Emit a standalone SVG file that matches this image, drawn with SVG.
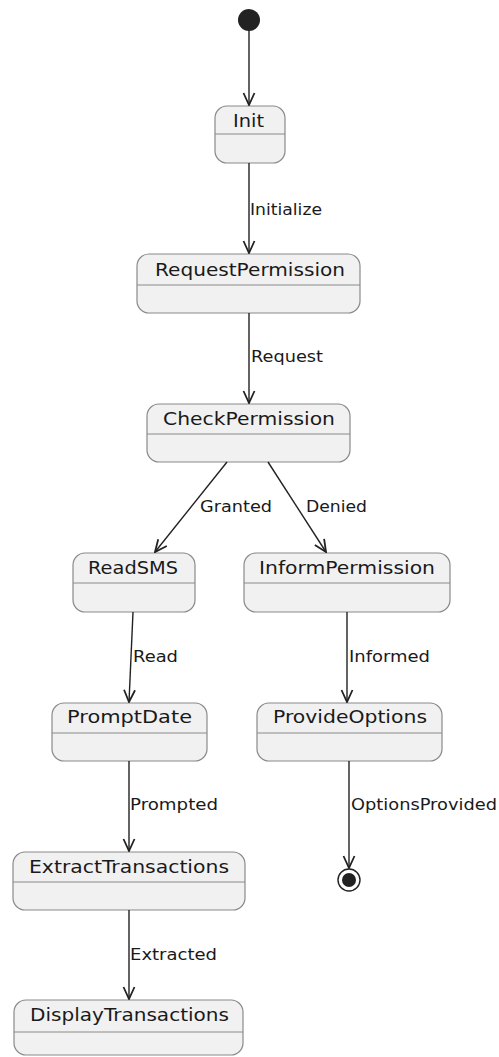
<svg xmlns="http://www.w3.org/2000/svg" width="499" height="1057" viewBox="0 0 499 1057">
<defs>
<style>
.box{fill:#F1F1F1;stroke:#8a8a8a;stroke-width:1.2}
.div{stroke:#8a8a8a;stroke-width:1}
.name{font-family:"DejaVu Sans",sans-serif;font-size:17px;fill:#1a1a1a}
.lbl{font-family:"DejaVu Sans",sans-serif;font-size:15px;fill:#1a1a1a}
.edge{stroke:#222;stroke-width:1.4;fill:none}
</style>
<marker id="arr" viewBox="0 0 14 14" refX="13" refY="7" markerWidth="14" markerHeight="14" markerUnits="userSpaceOnUse" orient="auto">
<path d="M1,1.5 L13,7 L1,12.5" fill="none" stroke="#222" stroke-width="1.8"/>
</marker>
</defs>
<rect width="499" height="1057" fill="#ffffff"/>
<g id="start"><circle cx="249" cy="20" r="11" fill="#222"/></g>
<g id="Init"><rect class="box" x="215" y="106" width="70" height="57" rx="12"/><line class="div" x1="215" y1="134" x2="285" y2="134"/><text class="name" x="233" y="127" textLength="31" lengthAdjust="spacingAndGlyphs">Init</text></g>
<g id="RequestPermission"><rect class="box" x="137" y="254" width="223" height="59" rx="12"/><line class="div" x1="137" y1="285" x2="360" y2="285"/><text class="name" x="155" y="276" textLength="190" lengthAdjust="spacingAndGlyphs">RequestPermission</text></g>
<g id="CheckPermission"><rect class="box" x="147" y="404" width="203" height="58" rx="12"/><line class="div" x1="147" y1="434" x2="350" y2="434"/><text class="name" x="163" y="425" textLength="172" lengthAdjust="spacingAndGlyphs">CheckPermission</text></g>
<g id="ReadSMS"><rect class="box" x="73" y="553" width="122" height="59" rx="12"/><line class="div" x1="73" y1="583" x2="195" y2="583"/><text class="name" x="88" y="574" textLength="90" lengthAdjust="spacingAndGlyphs">ReadSMS</text></g>
<g id="InformPermission"><rect class="box" x="244" y="553" width="206" height="59" rx="12"/><line class="div" x1="244" y1="583" x2="450" y2="583"/><text class="name" x="259" y="574" textLength="176" lengthAdjust="spacingAndGlyphs">InformPermission</text></g>
<g id="PromptDate"><rect class="box" x="52" y="703" width="155" height="58" rx="12"/><line class="div" x1="52" y1="733" x2="207" y2="733"/><text class="name" x="67" y="723" textLength="125" lengthAdjust="spacingAndGlyphs">PromptDate</text></g>
<g id="ProvideOptions"><rect class="box" x="257" y="703" width="185" height="58" rx="12"/><line class="div" x1="257" y1="733" x2="442" y2="733"/><text class="name" x="273" y="723" textLength="154" lengthAdjust="spacingAndGlyphs">ProvideOptions</text></g>
<g id="ExtractTransactions"><rect class="box" x="13" y="852" width="232" height="58" rx="12"/><line class="div" x1="13" y1="882" x2="245" y2="882"/><text class="name" x="29" y="873" textLength="200" lengthAdjust="spacingAndGlyphs">ExtractTransactions</text></g>
<g id="DisplayTransactions"><rect class="box" x="14" y="1000" width="229" height="55" rx="12"/><line class="div" x1="14" y1="1032" x2="243" y2="1032"/><text class="name" x="30" y="1021" textLength="199" lengthAdjust="spacingAndGlyphs">DisplayTransactions</text></g>
<g id="end"><circle cx="349" cy="880" r="11" fill="#fff" stroke="#222" stroke-width="1.4"/><circle cx="349" cy="880" r="7" fill="#222"/></g>
<g id="connectors">
<line class="edge" x1="249" y1="30" x2="249" y2="105" marker-end="url(#arr)"/>
<line class="edge" x1="249" y1="163" x2="249" y2="253" marker-end="url(#arr)"/>
<text class="lbl" x="250" y="215" textLength="72" lengthAdjust="spacingAndGlyphs">Initialize</text>
<line class="edge" x1="249" y1="313" x2="249" y2="403" marker-end="url(#arr)"/>
<text class="lbl" x="251" y="362" textLength="72" lengthAdjust="spacingAndGlyphs">Request</text>
<line class="edge" x1="227" y1="462" x2="155" y2="552" marker-end="url(#arr)"/>
<text class="lbl" x="200" y="512" textLength="72" lengthAdjust="spacingAndGlyphs">Granted</text>
<line class="edge" x1="268" y1="462" x2="326" y2="552" marker-end="url(#arr)"/>
<text class="lbl" x="306" y="512" textLength="61" lengthAdjust="spacingAndGlyphs">Denied</text>
<line class="edge" x1="133" y1="612" x2="129" y2="702" marker-end="url(#arr)"/>
<text class="lbl" x="133" y="662" textLength="45" lengthAdjust="spacingAndGlyphs">Read</text>
<line class="edge" x1="347" y1="612" x2="347" y2="702" marker-end="url(#arr)"/>
<text class="lbl" x="349" y="662" textLength="81" lengthAdjust="spacingAndGlyphs">Informed</text>
<line class="edge" x1="129" y1="761" x2="129" y2="851" marker-end="url(#arr)"/>
<text class="lbl" x="130" y="810" textLength="88" lengthAdjust="spacingAndGlyphs">Prompted</text>
<line class="edge" x1="349" y1="761" x2="349" y2="868" marker-end="url(#arr)"/>
<text class="lbl" x="351" y="810" textLength="146" lengthAdjust="spacingAndGlyphs">OptionsProvided</text>
<line class="edge" x1="129" y1="910" x2="129" y2="999" marker-end="url(#arr)"/>
<text class="lbl" x="130" y="960" textLength="87" lengthAdjust="spacingAndGlyphs">Extracted</text>
</g>
</svg>
